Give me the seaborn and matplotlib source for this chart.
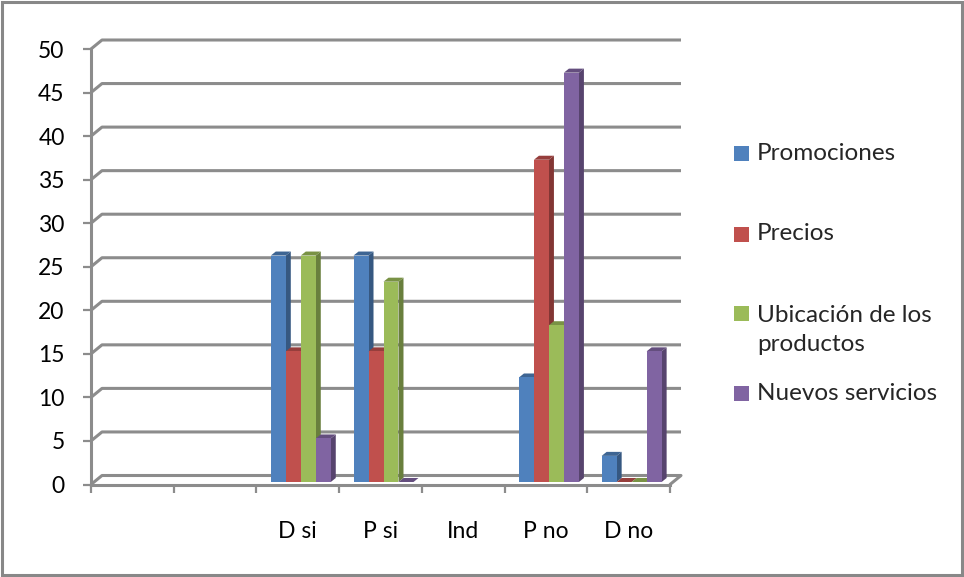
import numpy as np
import pandas as pd
import seaborn as sns
import matplotlib.pyplot as plt
from matplotlib.patches import Polygon, Rectangle
from matplotlib.colors import to_rgb

# Response categories (two leading blank slots on the axis)
categories = ["", " ", "D si", "P si", "Ind", "P no", "D no"]
series = ["Promociones", "Precios", "Ubicación de los\nproductos", "Nuevos servicios"]
promociones = [np.nan, np.nan, 26, 26, np.nan, 12, 3]
precios = [np.nan, np.nan, 15, 15, np.nan, 37, 0]
ubicacion = [np.nan, np.nan, 26, 23, np.nan, 18, 0]
nuevos = [np.nan, np.nan, 5, 0, np.nan, 47, 15]
y_ticks = [0, 5, 10, 15, 20, 25, 30, 35, 40, 45, 50]

colors = ["#4F81BD", "#C0504D", "#9BBB59", "#8064A2"]
grid_col = "#8C8C8C"

df = pd.DataFrame({
    "cat": categories * 4,
    "serie": sum([[s] * len(categories) for s in series], []),
    "val": promociones + precios + ubicacion + nuevos,
}).dropna()

sns.set_style("white")
plt.rcParams["font.family"] = ["Lato", "DejaVu Sans"]

W, H = 964, 577
fig = plt.figure(figsize=(W / 100, H / 100), dpi=100)
x0_px, x1_px, y0_px, y1_px = 91, 670, 484.5, 49
ax = fig.add_axes([x0_px / W, 1 - y0_px / H, (x1_px - x0_px) / W, (y0_px - y1_px) / H])
ax.set_facecolor("none")

sns.barplot(data=df, x="cat", y="val", hue="serie", order=categories,
            hue_order=series, palette=colors, width=0.725, saturation=1,
            errorbar=None, legend=False, ax=ax, linewidth=0)

ax.set_xlim(-0.5, len(categories) - 0.5)
ax.set_ylim(0, 50)

# pixel -> data conversions
ux = (len(categories)) / (x1_px - x0_px)
uy = 50 / (y0_px - y1_px)

def darker(c, f):
    r, g, b = to_rgb(c)
    return (r * f, g * f, b * f)

# 3-D look for each bar: shift to mid-depth, add side and top faces
shift_x, shift_y = 3 * ux, 2.5 * uy
depth_x, depth_y = 5 * ux, 4 * uy
bars = list(ax.patches)
for p in bars:
    fc = p.get_facecolor()[:3]
    k = int(np.argmin([np.sum((np.array(fc) - np.array(to_rgb(c))) ** 2) for c in colors]))
    x, w, h = p.get_x() + shift_x, p.get_width(), p.get_height()
    yb = shift_y
    p.set_x(x)
    p.set_y(yb)
    p.set_zorder(3 + 0.1 * k + 0.05)
    p.set_clip_on(False)
    side = Polygon([(x + w, yb), (x + w + depth_x, yb + depth_y),
                    (x + w + depth_x, yb + h + depth_y), (x + w, yb + h)],
                   closed=True, facecolor=darker(colors[k], 0.68), edgecolor="none",
                   zorder=3 + 0.1 * k, clip_on=False)
    top = Polygon([(x, yb + h), (x + depth_x, yb + h + depth_y),
                   (x + w + depth_x, yb + h + depth_y), (x + w, yb + h)],
                  closed=True, facecolor=darker(colors[k], 0.78), edgecolor="none",
                  zorder=3 + 0.1 * k, clip_on=False)
    ax.add_patch(side)
    ax.add_patch(top)

# back wall gridlines with the slanted floor/wall connectors
gdx, gdy = 11 * ux, 9 * uy
xl, xr = -0.5, len(categories) - 0.5
for v in y_ticks:
    ax.plot([xl, xl + gdx, xr + gdx], [v, v + gdy, v + gdy], color=grid_col,
            lw=2.2, zorder=1, clip_on=False, solid_capstyle="butt")
ax.plot([xr, xr + gdx], [0, gdy], color=grid_col, lw=2.2, zorder=1, clip_on=False)

for s in ["top", "right"]:
    ax.spines[s].set_visible(False)
for s in ["left", "bottom"]:
    ax.spines[s].set_color(grid_col)
    ax.spines[s].set_linewidth(2.2)
    ax.spines[s].set_zorder(2)

ax.set_yticks(y_ticks)
ax.set_yticklabels([str(t) for t in y_ticks])
ax.tick_params(axis="y", direction="out", length=6, width=1.6, color=grid_col,
               labelsize=16.5, pad=13, labelcolor="black", left=True)
ax.set_xticks(range(len(categories)))
ax.set_xticklabels(categories)
ax.set_xticks(np.arange(-0.5, len(categories), 1.0), minor=True)
ax.tick_params(axis="x", which="major", length=0, labelsize=16.5, pad=26, labelcolor="black")
ax.tick_params(axis="x", which="minor", direction="out", length=6, width=1.6,
               color=grid_col, bottom=True)
ax.set_xlabel("")
ax.set_ylabel("")
ax.grid(False)

# legend on the right
leg_y = [153, 234, 313, 393]
for k, (lab, yc) in enumerate(zip(series, leg_y)):
    fig.patches.append(Rectangle((734 / W, 1 - (yc + 7.5) / H), 15 / W, 15 / H,
                                 transform=fig.transFigure, facecolor=colors[k],
                                 edgecolor="none"))
    if "\n" in lab:
        fig.text(757 / W, 1 - (yc + 17) / H, lab, fontsize=17.5, va="center",
                 ha="left", linespacing=1.42)
    else:
        fig.text(757 / W, 1 - yc / H, lab, fontsize=17.5, va="center", ha="left")

# outer chart frame
fig.patches.append(Rectangle((2 / W, 2 / H), (W - 4) / W, (H - 4) / H,
                             transform=fig.transFigure, facecolor="none",
                             edgecolor="#888888", linewidth=2.2))

fig.savefig("out.png", dpi=100)
